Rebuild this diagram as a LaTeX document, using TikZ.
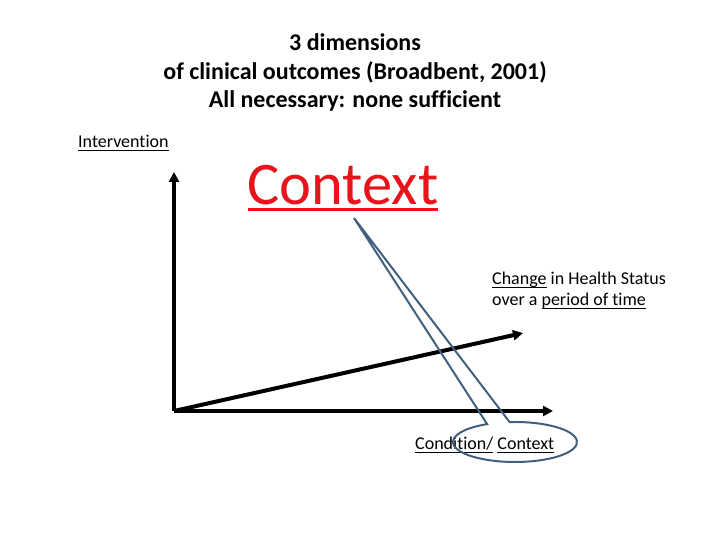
\documentclass[tikz,border=0pt]{standalone}
\usepackage{fontspec}
\setmainfont{Carlito}[Ligatures=CommonOff]
\usetikzlibrary{arrows.meta,calc}
\definecolor{calloutblue}{HTML}{41607F}
\definecolor{ctxred}{HTML}{E8141B}
\newsavebox{\ulbox}
\newcommand{\myul}[3]{\sbox{\ulbox}{#3}\rlap{\raisebox{#1}{\rule{\wd\ulbox}{#2}}}\usebox{\ulbox}}
\newcommand{\uls}[1]{\myul{-2.6pt}{1pt}{#1}}
\begin{document}
\begin{tikzpicture}[x=1pt,y=1pt,
  lbl/.style={inner sep=0pt, anchor=base west, font=\fontsize{18}{21.6}\selectfont},
  ttl/.style={inner sep=0pt, anchor=base, font=\fontsize{24}{28}\selectfont\bfseries},
  axis/.style={line width=4pt, -{Triangle[length=10pt,width=10pt]}},
  callout/.style={draw=calloutblue, line width=2pt, line join=miter}]
\useasboundingbox (0,0) rectangle (720,540);
% title
\node[ttl] (t1) at (355,489) {3 dimensions};
\node[ttl] (t2) at (355,460) {of clinical outcomes (Broadbent, 2001)};
\node[ttl] (t3) at (355,432) {All necessary: none sufficient};
% labels
\node[lbl] (int) at (78,392) {\uls{Intervention}};
\node[inner sep=0pt, anchor=base, text=ctxred, font=\fontsize{60.5}{62}\selectfont] (ctx) at (343,335)
  {\myul{-6pt}{2.5pt}{Context}};
\node[lbl] (chg1) at (492,255) {\uls{Change} in Health Status};
\node[lbl] (chg2) at (492,234) {over a \uls{period of time}};
% axes
\coordinate (o) at (174,129);
\coordinate (ytop) at (174,368);
\coordinate (xend) at (553,129);
\coordinate (dend) at (523,207);
\draw[axis] (o) -- (ytop);
\draw[axis] (o) -- (xend);
\draw[axis] (o) -- (dend);
% callout
\node[lbl] (cond) at (415,90) {\uls{Condition/} \uls{Context}};
\coordinate (tip) at (354,322);
\coordinate (ec) at (515,98);
\draw[callout] (tip) -- ($(ec)+(95:62 and 20)$) arc[start angle=95, end angle=-243.3, x radius=62, y radius=20] -- cycle;
\end{tikzpicture}
\end{document}
